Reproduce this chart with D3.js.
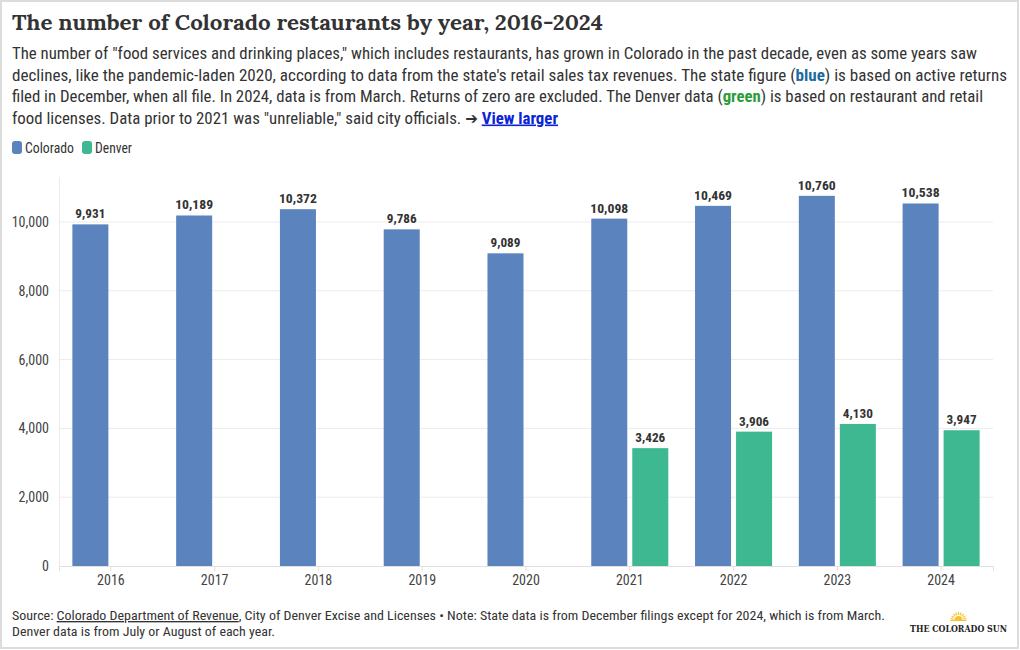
<!DOCTYPE html>
<html><head><meta charset="utf-8">
<script src="https://cdn.jsdelivr.net/npm/d3@7"></script>
<style>
body{margin:0;background:#fff;}
svg{display:block;}
text{font-family:"Roboto Condensed","Liberation Sans Narrow","DejaVu Sans Condensed",Roboto,sans-serif;}
</style></head><body>
<script>
const years = ["2016","2017","2018","2019","2020","2021","2022","2023","2024"];
const series = ["Colorado","Denver"];
const coloradoValues = [9931,10189,10372,9786,9089,10098,10469,10760,10538];
const denverValues = [null,null,null,null,null,3426,3906,4130,3947];
const yTicks = [0,2000,4000,6000,8000,10000];
const colors = {Colorado:"#5b83bd", Denver:"#3db890"};

const W=1020,H=650;
const svg=d3.select("body").append("svg").attr("width",W).attr("height",H);
svg.append("rect").attr("x",1).attr("y",1).attr("width",W-3).attr("height",H-3)
  .attr("fill","#fff").attr("stroke","#dcdcdc").attr("stroke-width",2);

// Title
svg.append("text").attr("x",12).attr("y",30)
  .style("font-family","Lora,'DejaVu Serif','Liberation Serif',serif")
  .attr("font-weight","bold").attr("font-size",22).attr("fill","#333")
  .attr("textLength",591).attr("lengthAdjust","spacingAndGlyphs")
  .text("The number of Colorado restaurants by year, 2016-2024");

// Subtitle
const sub=[
 {parts:[["The number of \"food services and drinking places,\" which includes restaurants, has grown in Colorado in the past decade, even as some years saw"]],len:965},
 {parts:[["declines, like the pandemic-laden 2020, according to data from the state's retail sales tax revenues. The state figure ("],["blue","#1d6b9f",true],[") is based on active returns"]],len:995},
 {parts:[["filed in December, when all file. In 2024, data is from March. Returns of zero are excluded. The Denver data ("],["green","#2e9c3c",true],[") is based on restaurant and retail"]],len:971},
 {parts:[["food licenses. Data prior to 2021 was \"unreliable,\" said city officials. \u2794 "],["View larger","#0b24d6",true,true]],len:546}
];
sub.forEach((ln,i)=>{
  const t=svg.append("text").attr("x",12).attr("y",59+i*21.5).attr("font-size",16).attr("fill","#333")
    .attr("textLength",ln.len).attr("lengthAdjust","spacingAndGlyphs");
  ln.parts.forEach(p=>{
    const s=t.append("tspan").text(p[0]);
    if(p[1]) s.attr("fill",p[1]);
    if(p[2]) s.attr("font-weight","bold");
    if(p[3]) s.attr("text-decoration","underline");
  });
});

// Legend
const leg=[{k:"Colorado",x:12,len:49},{k:"Denver",x:82,len:37}];
leg.forEach(l=>{
  svg.append("rect").attr("x",l.x).attr("y",141).attr("width",10).attr("height",13).attr("rx",3)
    .attr("fill",colors[l.k]);
  svg.append("text").attr("x",l.x+13).attr("y",152.5).attr("font-size",14).attr("fill","#333")
    .attr("textLength",l.len).attr("lengthAdjust","spacingAndGlyphs").text(l.k);
});

// Scales
const x=d3.scaleBand().domain(years).range([59,993]).padding(0);
const xs=d3.scaleBand().domain(series).range([0,x.bandwidth()]).paddingInner(0.122).paddingOuter(0.326);
const y=d3.scaleLinear().domain([0,11308]).range([566,177]);

// gridlines
const g=svg.append("g");
g.selectAll("line.grid").data(yTicks.filter(d=>d>0)).join("line")
  .attr("x1",59).attr("x2",993).attr("y1",d=>y(d)).attr("y2",d=>y(d))
  .attr("stroke","#ebebeb").attr("stroke-width",1);
g.append("line").attr("x1",59.5).attr("x2",59.5).attr("y1",177).attr("y2",566).attr("stroke","#ebebeb");

// y axis
const yAxis=svg.append("g").attr("transform","translate(59,0)")
  .call(d3.axisLeft(y).tickValues(yTicks).tickFormat(d3.format(",")).tickSize(0).tickPadding(10));
yAxis.select(".domain").remove();
yAxis.selectAll("text").attr("font-size",14).attr("fill","#444")
  .style("font-family","'Roboto Condensed','Liberation Sans Narrow','DejaVu Sans Condensed',Roboto,sans-serif");

// bars
const data=[];
years.forEach((yr,i)=>{
  data.push({yr,s:"Colorado",v:coloradoValues[i]});
  if(denverValues[i]!=null) data.push({yr,s:"Denver",v:denverValues[i]});
});
svg.append("g").selectAll("rect").data(data).join("rect")
  .attr("x",d=>x(d.yr)+xs(d.s)).attr("width",xs.bandwidth())
  .attr("y",d=>y(d.v)).attr("height",d=>y(0)-y(d.v))
  .attr("fill",d=>colors[d.s]);

svg.append("g").selectAll("text").data(data).join("text")
  .attr("x",d=>x(d.yr)+xs(d.s)+xs.bandwidth()/2).attr("y",d=>y(d.v)-6)
  .attr("text-anchor","middle").attr("font-size",12.5).attr("font-weight","bold").attr("fill","#333")
  .attr("textLength",d=>d.v>=10000?38:30).attr("lengthAdjust","spacingAndGlyphs")
  .text(d=>d3.format(",")(d.v));

// x axis
const xAxis=svg.append("g").attr("transform","translate(0,566)")
  .call(d3.axisBottom(x).tickSize(5).tickPadding(4));
xAxis.select(".domain").attr("stroke","#e0e0e0");
xAxis.selectAll(".tick line").attr("stroke","#e0e0e0");
xAxis.selectAll("text").attr("font-size",14).attr("fill","#444")
  .style("font-family","'Roboto Condensed','Liberation Sans Narrow','DejaVu Sans Condensed',Roboto,sans-serif");

// footer
const f1=svg.append("text").attr("x",12).attr("y",620).attr("font-size",13.5).attr("fill","#333")
  .attr("textLength",873).attr("lengthAdjust","spacingAndGlyphs");
f1.append("tspan").text("Source: ");
f1.append("tspan").attr("text-decoration","underline").text("Colorado Department of Revenue");
f1.append("tspan").text(", City of Denver Excise and Licenses \u2022 Note: State data is from December filings except for 2024, which is from March.");
svg.append("text").attr("x",12).attr("y",636).attr("font-size",13.5).attr("fill","#333")
  .attr("textLength",263).attr("lengthAdjust","spacingAndGlyphs")
  .text("Denver data is from July or August of each year.");

// logo
const lg=svg.append("g").attr("transform","translate(958.5,620)");
lg.append("path").attr("d",d3.arc()({innerRadius:0,outerRadius:4,startAngle:-Math.PI/2,endAngle:Math.PI/2}))
  .attr("fill","#f4c430");
d3.range(-80,81,20).forEach(a=>{
  const r=a*Math.PI/180;
  lg.append("line").attr("x1",Math.sin(r)*5).attr("y1",-Math.cos(r)*5)
    .attr("x2",Math.sin(r)*8).attr("y2",-Math.cos(r)*8).attr("stroke","#f4c430").attr("stroke-width",1.2);
});
lg.append("line").attr("x1",-8).attr("x2",8).attr("y1",0.5).attr("y2",0.5).attr("stroke","#f4c430");
svg.append("text").attr("x",958.5).attr("y",632).attr("text-anchor","middle")
  .style("font-family","'DejaVu Serif','Liberation Serif',serif").attr("font-weight","bold")
  .attr("font-size",9).attr("fill","#222").attr("textLength",97).attr("lengthAdjust","spacingAndGlyphs")
  .text("THE COLORADO SUN");
</script>
</body></html>
